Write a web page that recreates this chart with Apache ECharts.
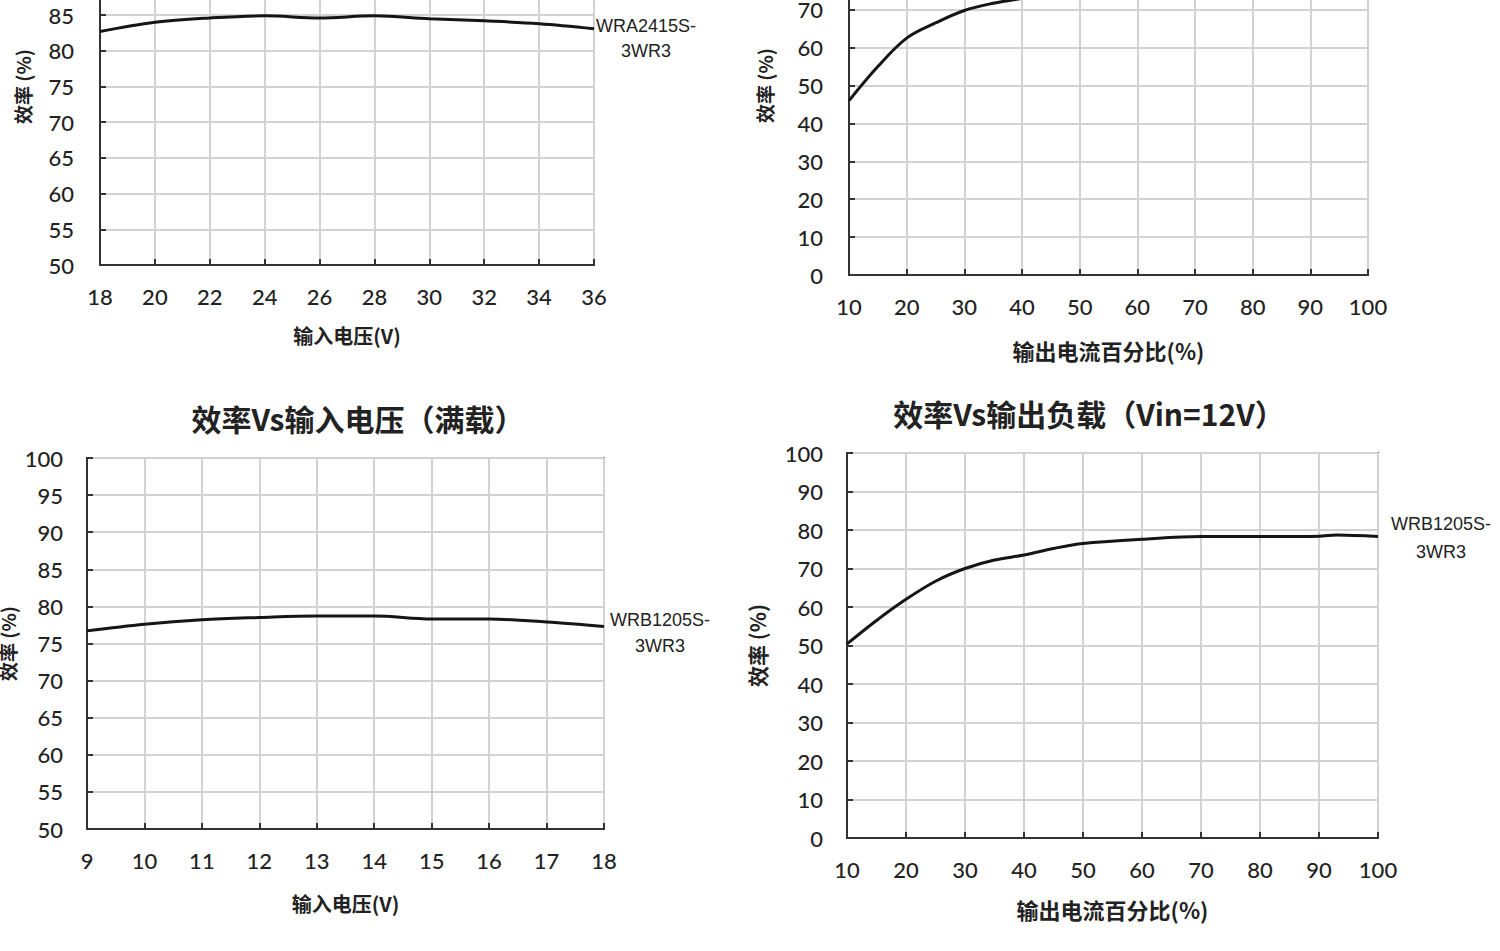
<!DOCTYPE html>
<html><head><meta charset="utf-8">
<script src="https://cdn.jsdelivr.net/npm/echarts@6/dist/echarts.min.js"></script>
<style>html,body{margin:0;padding:0;background:#fff;overflow:hidden;}#wrap{position:relative;width:1500px;height:951px;overflow:hidden;}#c{position:absolute;left:0;top:-130px;width:1500px;height:1081px;}</style>
</head><body><div id="wrap"><div id="c"></div></div>
<script>
// Chart 1 (top-left): efficiency vs input voltage, WRA2415S-3WR3
const vinA = [18, 20, 22, 24, 26, 28, 30, 32, 34, 36];
const effA = [82.7, 84.0, 84.6, 84.9, 84.6, 84.9, 84.5, 84.2, 83.8, 83.1];
// Chart 2 (top-right): efficiency vs load (upper part cropped; hidden part estimated)
const loadA = [10, 15, 20, 25, 30, 35, 40, 50, 60, 70, 80, 90, 100];
const effLoadA = [46, 55, 62.5, 66.5, 69.8, 71.7, 73, 76, 78, 79, 79.5, 80, 80];
// Chart 3 (bottom-left): efficiency vs input voltage, WRB1205S-3WR3
const vinB = [9, 10, 11, 12, 13, 14, 15, 16, 17, 18];
const effB = [76.7, 77.6, 78.2, 78.5, 78.7, 78.7, 78.3, 78.3, 77.9, 77.3];
// Chart 4 (bottom-right): efficiency vs load (Vin=12V), WRB1205S-3WR3
const loadB = [10, 15, 20, 25, 30, 35, 40, 45, 50, 60, 70, 80, 90, 93, 100];
const effLoadB = [50.4, 56.5, 62, 66.7, 70, 72.2, 73.5, 75.2, 76.5, 77.6, 78.3, 78.3, 78.4, 78.7, 78.3];

const titleB1 = '效率Vs输入电压（满载）';
const titleB2 = '效率Vs输出负载（Vin=12V）';
const nameA = 'WRA2415S-\n3WR3';
const nameB = 'WRB1205S-\n3WR3';
const xNameVin = '输入电压(V)';
const xNameLoad = '输出电流百分比(%)';
const yName = '效率 (%)';

const OFF = 130; // the canvas starts above the visible window (top charts are cropped)
const TXT = '#222';
const NUMFONT = 'Lato, "DejaVu Sans", sans-serif';
const CJK = '"Noto Sans CJK SC", sans-serif';

function xAxis(gi, min, max, interval, name, nameSize, nameGap) {
  return {
    type: 'value', gridIndex: gi, min, max, interval,
    name, nameLocation: 'middle', nameGap,
    nameTextStyle: {fontFamily: CJK, fontSize: nameSize, fontWeight: 'bold', color: TXT},
    axisLine: {show: true, lineStyle: {color: '#333', width: 2}},
    axisTick: {show: true, inside: true, length: 6, lineStyle: {color: '#333', width: 2}},
    axisLabel: {fontFamily: NUMFONT, fontSize: 22, fontWeight: 500, color: TXT, margin: 20},
    splitLine: {show: true, lineStyle: {color: '#d2d2d2', width: 2}}
  };
}
function yAxis(gi, min, max, interval, nameSize, nameGap, labelMargin) {
  return {
    type: 'value', gridIndex: gi, min, max, interval,
    name: yName, nameLocation: 'middle', nameGap, nameRotate: 90,
    nameTextStyle: {fontFamily: CJK, fontSize: nameSize, fontWeight: 'bold', color: TXT},
    axisLine: {show: true, lineStyle: {color: '#333', width: 2}},
    axisTick: {show: true, inside: true, length: 6, lineStyle: {color: '#333', width: 2}},
    axisLabel: {fontFamily: NUMFONT, fontSize: 22, fontWeight: 500, color: TXT, margin: labelMargin},
    splitLine: {show: true, lineStyle: {color: '#d2d2d2', width: 2}}
  };
}
function line(i, xs, ys) {
  return {
    type: 'line', xAxisIndex: i, yAxisIndex: i, smooth: 0.35, symbol: 'none',
    lineStyle: {color: '#151515', width: 3}, clip: true,
    data: xs.map((x, k) => [x, ys[k]])
  };
}
const gridStyle = {show: true, borderColor: '#555', borderWidth: 2, backgroundColor: '#fff', outerBoundsMode: 'none', containLabel: false};
const option = {
  animation: false,
  backgroundColor: '#fff',
  grid: [
    Object.assign({left: 100, width: 494, top: OFF - 92, height: 357}, gridStyle),
    Object.assign({left: 849, width: 519, top: OFF - 104, height: 379}, gridStyle),
    Object.assign({left: 87, width: 517, top: OFF + 458, height: 371}, gridStyle),
    Object.assign({left: 847, width: 531, top: OFF + 453, height: 385}, gridStyle)
  ],
  xAxis: [
    xAxis(0, 18, 36, 2, xNameVin, 20, 60),
    xAxis(1, 10, 100, 10, xNameLoad, 22, 64),
    xAxis(2, 9, 18, 1, xNameVin, 20, 64),
    xAxis(3, 10, 100, 10, xNameLoad, 22, 60)
  ],
  yAxis: [
    yAxis(0, 50, 100, 5, 19, 68, 26),
    yAxis(1, 0, 100, 10, 19, 75, 26),
    yAxis(2, 50, 100, 5, 19, 70, 24),
    yAxis(3, 0, 100, 10, 21, 80, 24)
  ],
  series: [
    line(0, vinA, effA),
    line(1, loadA, effLoadA),
    line(2, vinB, effB),
    line(3, loadB, effLoadB)
  ],
  graphic: [
    {type: 'text', x: 358, y: OFF + 418, style: {text: titleB1, fontFamily: CJK, fontSize: 30, fontWeight: 'bold', fill: TXT, align: 'center', verticalAlign: 'middle'}},
    {type: 'text', x: 1089, y: OFF + 413, style: {text: titleB2, fontFamily: CJK, fontSize: 30, fontWeight: 'bold', fill: TXT, align: 'center', verticalAlign: 'middle'}},
    {type: 'text', x: 646, y: OFF + 38, style: {text: nameA, fontFamily: '"Liberation Sans Narrow", "Liberation Sans", sans-serif', fontSize: 18, lineHeight: 25, fill: TXT, align: 'center', verticalAlign: 'middle'}},
    {type: 'text', x: 660, y: OFF + 633, style: {text: nameB, fontFamily: '"Liberation Sans Narrow", "Liberation Sans", sans-serif', fontSize: 18, lineHeight: 26, fill: TXT, align: 'center', verticalAlign: 'middle'}},
    {type: 'text', x: 1441, y: OFF + 538, style: {text: nameB, fontFamily: '"Liberation Sans Narrow", "Liberation Sans", sans-serif', fontSize: 18, lineHeight: 28, fill: TXT, align: 'center', verticalAlign: 'middle'}}
  ]
};
const chart = echarts.init(document.getElementById('c'), null, {renderer: 'svg'});
chart.setOption(option);
</script>
</body></html>
